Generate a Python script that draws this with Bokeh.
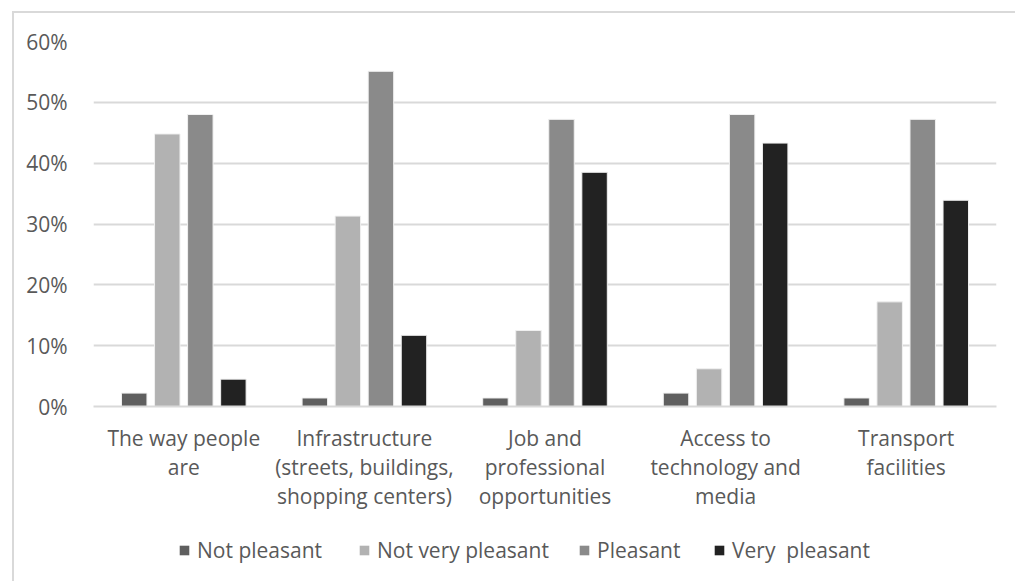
from bokeh.plotting import figure
from bokeh.layouts import column
from bokeh.models import Range1d, FixedTicker, PrintfTickFormatter, Legend, LegendItem, ColumnDataSource
from bokeh.embed import file_html
from bokeh.resources import INLINE

categories = ["The way people\nare",
              "Infrastructure\n(streets, buildings,\nshopping centers)",
              "Job and\nprofessional\nopportunities",
              "Access to\ntechnology and\nmedia",
              "Transport\nfacilities"]
series_names = ["Not pleasant", "Not very pleasant", "Pleasant", "Very  pleasant"]
not_pleasant = [2.2, 1.4, 1.4, 2.2, 1.4]
not_very_pleasant = [44.8, 31.3, 12.5, 6.2, 17.2]
pleasant = [48.0, 55.1, 47.2, 48.0, 47.2]
very_pleasant = [4.5, 11.7, 38.5, 43.3, 33.9]
y_ticks = [0, 10, 20, 30, 40, 50, 60]

series_values = [not_pleasant, not_very_pleasant, pleasant, very_pleasant]
colors = ["#5f5f5f", "#b2b2b2", "#8a8a8a", "#222222"]

FONT = "Open Sans"
TXT = "#595959"
FS = "21px"

p = figure(width=1001, height=507, output_backend="svg", toolbar_location=None,
           x_range=Range1d(-0.5, 4.5), y_range=Range1d(0, 60))
p.min_border_left = 79
p.min_border_right = 19
p.min_border_top = 28
p.min_border_bottom = 114
p.outline_line_color = None
p.background_fill_color = "white"
p.border_fill_color = "white"

step = 0.183
width = 0.141
offsets = [-1.5 * step, -0.5 * step, 0.5 * step, 1.5 * step]
xs = list(range(len(categories)))

for name, vals, col, off in zip(series_names, series_values, colors, offsets):
    src = ColumnDataSource(dict(x=[x + off for x in xs], top=vals))
    p.vbar(x="x", top="top", width=width, bottom=0, source=src,
           fill_color=col, line_color="#f0f0f0", line_width=1)

# axes
p.xaxis.ticker = FixedTicker(ticks=xs)
p.xaxis.major_label_overrides = {i: c for i, c in enumerate(categories)}
p.xaxis.major_tick_line_color = None
p.xaxis.minor_tick_line_color = None
p.xaxis.axis_line_color = "#d9d9d9"
p.xaxis.axis_line_width = 2
p.xaxis.major_label_text_font = FONT
p.xaxis.major_label_text_font_size = FS
p.xaxis.major_label_text_color = TXT
p.xaxis.major_label_text_line_height = 1.05
p.xaxis.major_label_standoff = 11

p.yaxis.ticker = FixedTicker(ticks=y_ticks)
p.yaxis.formatter = PrintfTickFormatter(format="%d%%")
p.yaxis.major_tick_line_color = None
p.yaxis.minor_tick_line_color = None
p.yaxis.axis_line_color = None
p.yaxis.major_label_text_font = FONT
p.yaxis.major_label_text_font_size = FS
p.yaxis.major_label_text_color = TXT
p.yaxis.major_label_standoff = 20

p.xgrid.grid_line_color = None
p.ygrid.grid_line_color = "#d9d9d9"
p.ygrid.grid_line_width = 2
p.ygrid.ticker = FixedTicker(ticks=y_ticks)

# legend strip (its frame is aligned with the main plot's frame by the column)
p2 = figure(width=1001, height=61, output_backend="svg", toolbar_location=None,
            x_range=Range1d(0, 1), y_range=Range1d(0, 1),
            x_axis_type=None, y_axis_type=None, min_border=0)
p2.outline_line_color = None
p2.xgrid.grid_line_color = None
p2.ygrid.grid_line_color = None
p2.background_fill_color = "white"
p2.border_fill_color = "white"

legend_x = [85, 265, 485, 620]   # swatch left edges, px from frame left
for name, col, lx in zip(series_names, colors, legend_x):
    # zero-height bar: invisible, only gives the legend swatch its colour
    r = p2.vbar(x="x", top="top", bottom=0, width=0.01,
                source=ColumnDataSource(dict(x=[0.5], top=[0])),
                fill_color=col, line_color=None)
    lg = Legend(items=[LegendItem(label=name, renderers=[r])],
                orientation="horizontal", location=(lx, 17),
                label_text_font=FONT, label_text_font_size=FS,
                label_text_color=TXT, glyph_width=12, glyph_height=12,
                label_standoff=7, spacing=0, border_line_color=None,
                background_fill_alpha=0, margin=0, padding=0)
    p2.add_layout(lg, "center")

layout = column(p, p2, spacing=0)
layout.margin = (11, 0, 0, 12)
layout.styles = {"border-top": "2px solid #d9d9d9", "border-left": "2px solid #d9d9d9"}

open("out.html", "w").write(file_html(layout, INLINE))
